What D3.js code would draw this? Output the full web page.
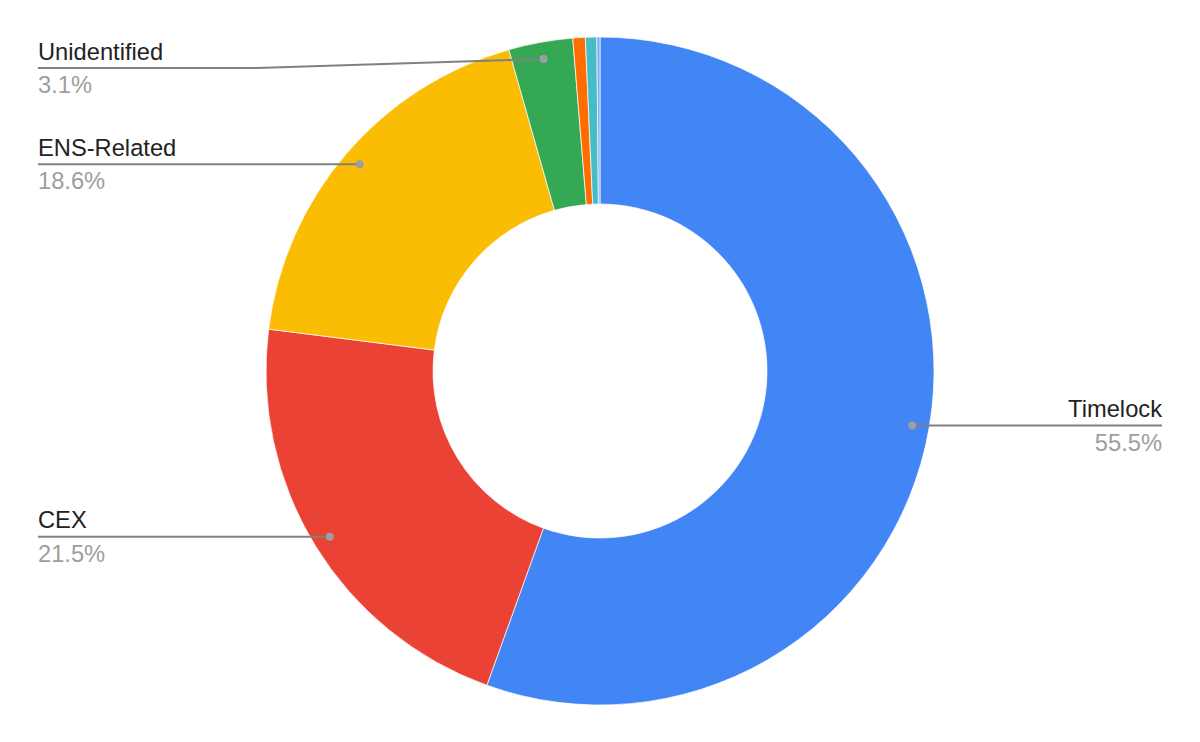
<!DOCTYPE html>
<html>
<head>
<meta charset="utf-8">
<script src="https://cdn.jsdelivr.net/npm/d3@7"></script>
<style>
  html, body { margin: 0; padding: 0; background: #ffffff; }
  svg { display: block; font-family: "Liberation Sans", Arial, sans-serif; }
</style>
</head>
<body>
<svg id="chart" width="1200" height="742"></svg>
<script>
// ---- data ----
const categories = ["Timelock", "CEX", "ENS-Related", "Unidentified", "Other A", "Other B", "Other C"];
const values = [55.5, 21.5, 18.6, 3.1, 0.6, 0.55, 0.15];
const colors = ["#4285f4", "#ea4335", "#fbbc04", "#34a853", "#ff6d01", "#46bdc6", "#7baaf7"];
const labelled = ["Timelock", "CEX", "ENS-Related", "Unidentified"];

// ---- layout ----
const W = 1200, H = 742;
const cx = 600, cy = 371;
const outerR = 334, innerR = 167, dotR = 317;
const leftX = 38, rightX = 1162;
const minLineY = 68;
const fontSize = 23.7;

const svg = d3.select("#chart");
const g = svg.append("g").attr("transform", `translate(${cx},${cy})`);

const data = categories.map((c, i) => ({ name: c, value: values[i], color: colors[i] }));
const total = d3.sum(values);

const pie = d3.pie().value(d => d.value).sort(null).startAngle(0).endAngle(2 * Math.PI);
const arcs = pie(data);
const arc = d3.arc().innerRadius(innerR).outerRadius(outerR);

g.selectAll("path.slice")
  .data(arcs)
  .join("path")
  .attr("class", "slice")
  .attr("d", arc)
  .attr("fill", d => d.data.color)
  .attr("stroke", "#ffffff")
  .attr("stroke-width", 0.7);

const fmt = d3.format(".1%");

const labels = arcs.filter(a => labelled.includes(a.data.name)).map(a => {
  const mid = (a.startAngle + a.endAngle) / 2;
  const dx = cx + dotR * Math.sin(mid);
  const dy = cy - dotR * Math.cos(mid);
  const right = Math.sin(mid) > 0;
  const ly = Math.max(dy, minLineY);
  return { a, dx, dy, ly, right };
});

const lg = svg.append("g");
labels.forEach(l => {
  const x0 = l.right ? rightX : leftX;
  let p = d3.path();
  p.moveTo(x0, l.ly);
  if (Math.abs(l.ly - l.dy) > 1) {
    const bendX = l.right ? rightX - 219 : leftX + 219;
    p.lineTo(bendX, l.ly);
  }
  p.lineTo(l.dx, l.dy);
  lg.append("path")
    .attr("d", p.toString())
    .attr("fill", "none")
    .attr("stroke", "#808080")
    .attr("stroke-width", 2);
  lg.append("circle")
    .attr("cx", l.dx).attr("cy", l.dy).attr("r", 4)
    .attr("fill", "#9e9e9e");
  lg.append("text")
    .attr("x", x0).attr("y", l.ly - 8.5)
    .attr("text-anchor", l.right ? "end" : "start")
    .attr("font-size", fontSize)
    .attr("fill", "#222222")
    .text(l.a.data.name);
  lg.append("text")
    .attr("x", x0).attr("y", l.ly + 25)
    .attr("text-anchor", l.right ? "end" : "start")
    .attr("font-size", fontSize)
    .attr("fill", "#9e9e9e")
    .text(fmt(l.a.data.value / total));
});
</script>
</body>
</html>
